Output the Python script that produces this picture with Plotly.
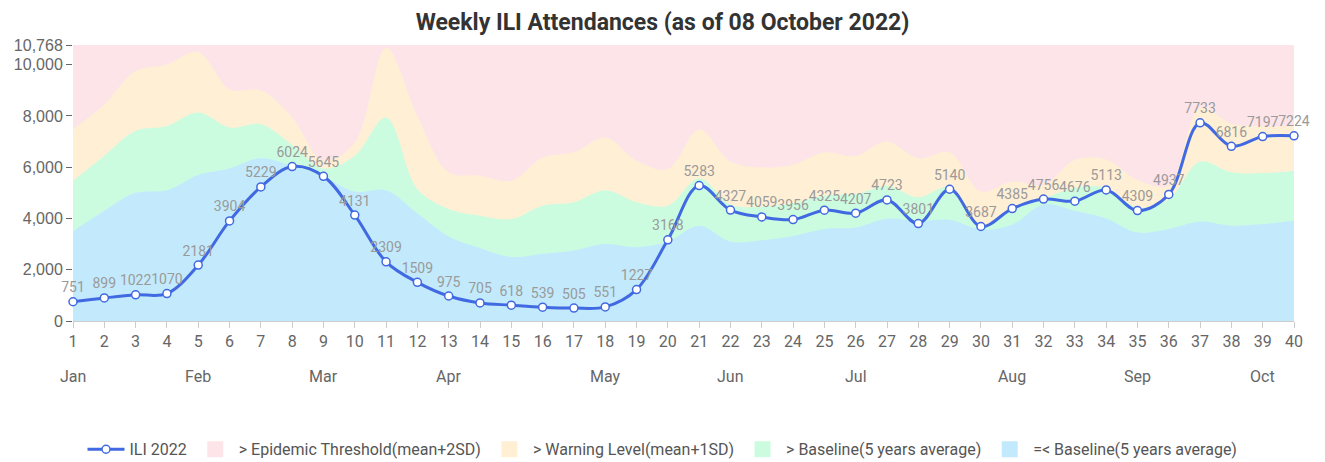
import plotly.graph_objects as go

weeks = list(range(1, 41))
ili_2022 = [751, 899, 1022, 1070, 2181, 3904, 5229, 6024, 5645, 4131,
            2309, 1509, 975, 705, 618, 539, 505, 551, 1227, 3168,
            5283, 4327, 4059, 3956, 4325, 4207, 4723, 3801, 5140, 3687,
            4385, 4756, 4676, 5113, 4309, 4937, 7733, 6816, 7197, 7224]

# 5-year average baseline (top of blue band)
baseline = [3500, 4300, 5000, 5100, 5700, 5950, 6350, 6050, 5650, 5050,
            5100, 4200, 3300, 2850, 2500, 2620, 2750, 3000, 2880, 3100,
            3720, 3100, 3150, 3320, 3590, 3650, 3990, 3900, 3950, 3580,
            3760, 4550, 4300, 4000, 3450, 3590, 3880, 3720, 3780, 3916]
# mean + 1SD (top of green band)
warning_level = [5470, 6450, 7420, 7610, 8130, 7550, 7680, 6870, 5950, 6450,
                 7940, 5150, 4370, 4110, 3980, 4500, 4630, 5100, 4630, 4500,
                 5570, 4550, 4450, 4600, 4890, 4955, 5270, 4825, 5230, 3700,
                 4340, 4780, 5200, 5200, 4420, 4760, 6220, 5800, 5770, 5860]
# mean + 2SD (top of yellow band)
epidemic_threshold = [7480, 8450, 9750, 10010, 10490, 9040, 9000, 7940, 6250, 6950,
                      10650, 8000, 5800, 5670, 5470, 6380, 6580, 7160, 6250, 5930,
                      7470, 6220, 5990, 6100, 6580, 6440, 7000, 6350, 6580, 5050,
                      5440, 5310, 6280, 6300, 5500, 5300, 8330, 7700, 7600, 7600]
y_max = 10768
y_ticks = [0, 2000, 4000, 6000, 8000, 10000, 10768]
month_labels = ["Jan", "Feb", "Mar", "Apr", "May", "Jun", "Jul", "Aug", "Sep", "Oct"]
month_weeks = [1, 5, 9, 13, 18, 22, 26, 31, 35, 39]

FONT = "Roboto, 'Liberation Sans', sans-serif"
fig = go.Figure()

bands = [
    ("> Epidemic Threshold(mean+2SD)", [y_max] * len(weeks), "rgb(252,228,233)", 2),
    ("> Warning Level(mean+1SD)", epidemic_threshold, "rgb(255,239,213)", 3),
    ("> Baseline(5 years average)", warning_level, "rgb(204,252,224)", 4),
    ("=< Baseline(5 years average)", baseline, "rgb(194,234,252)", 5),
]
for name, vals, col, rank in bands:
    fig.add_trace(go.Scatter(
        x=weeks, y=vals, name=name, mode="lines",
        line=dict(width=0, shape="spline", smoothing=1, color=col),
        fill="tozeroy", fillcolor=col, hoverinfo="skip", showlegend=False,
    ))
    # legend swatch (square) for the band
    fig.add_trace(go.Scatter(
        x=[None], y=[None], name=name, mode="markers",
        marker=dict(symbol="square", size=16, color=col),
        legendrank=rank, showlegend=True,
    ))

fig.add_trace(go.Scatter(
    x=weeks, y=ili_2022, name="ILI 2022", mode="lines+markers+text",
    text=[str(v) for v in ili_2022], textposition="top center",
    textfont=dict(family=FONT, size=14, color="#9a9a9a"),
    line=dict(color="#4169E1", width=3, shape="spline", smoothing=1),
    marker=dict(symbol="circle", size=8, color="white",
                line=dict(color="#4169E1", width=1.5)),
    cliponaxis=False, legendrank=1,
))

for lab, wk in zip(month_labels, month_weeks):
    fig.add_annotation(x=wk, y=-0.2, xref="x", yref="paper", text=lab,
                       showarrow=False, yanchor="middle", xanchor="center",
                       font=dict(family=FONT, size=16, color="#666"))

fig.update_layout(
    width=1325, height=462,
    margin=dict(l=73, r=31, t=45, b=141, autoexpand=False),
    plot_bgcolor="white", paper_bgcolor="white",
    title=dict(text="<b>Weekly ILI Attendances (as of 08 October 2022)</b>",
               x=0.5, xanchor="center", xref="container", y=0.953, yref="container",
               yanchor="middle",
               font=dict(family=FONT, size=23, color="#333")),
    font=dict(family=FONT, color="#666"),
    showlegend=True,
    legend=dict(orientation="h", x=0.5, xanchor="center", xref="container",
                y=-0.465, yanchor="middle",
                font=dict(family=FONT, size=16, color="#555"),
                itemwidth=37, traceorder="normal"),
    hovermode=False,
)
fig.update_xaxes(range=[1, 40], tickvals=weeks, ticktext=[str(w) for w in weeks],
                 ticks="outside", ticklen=6, tickcolor="#ccc",
                 showline=True, linecolor="#ccc", linewidth=1,
                 showgrid=False, zeroline=False, automargin=False,
                 tickfont=dict(family=FONT, size=16, color="#666"))
fig.update_yaxes(range=[0, y_max], tickvals=y_ticks,
                 ticktext=[f"{v:,}" for v in y_ticks],
                 ticks="outside", ticklen=6, tickcolor="#666",
                 showline=False, showgrid=False, zeroline=False, automargin=False,
                 tickfont=dict(family="'Liberation Sans', Arial, sans-serif", size=16, color="#666"))

fig.write_html("out.html", config={"displayModeBar": False},
               post_script="document.body.style.margin='0px';")
